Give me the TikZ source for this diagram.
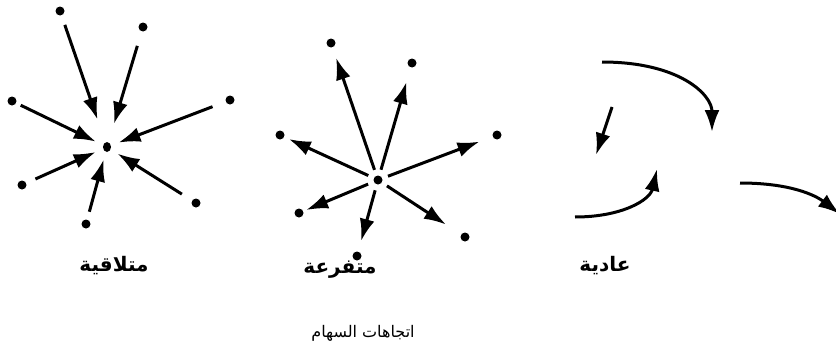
\documentclass[tikz,border=0pt]{standalone}
\usepackage{fontspec}
\newfontfamily\arabicfont[Script=Arabic]{DejaVu Sans}
\TeXXeTstate=1
\usetikzlibrary{arrows.meta,shapes.geometric}
\tikzset{
  dot/.style={circle, fill=black, minimum size=9pt, inner sep=0pt},
  hubdot/.style={ellipse, fill=black, minimum width=8pt, minimum height=10pt, inner sep=0pt},
  arrow/.style={-{Latex[length=22pt,width=15pt]}, line width=3pt},
  inarrow/.style={arrow, shorten <=10pt, shorten >=8pt},
  outarrow/.style={arrow, shorten <=6pt, shorten >=11pt},
  label/.style={font=\arabicfont\bfseries\fontsize{20}{22}\selectfont, inner sep=0pt},
  caption/.style={font=\arabicfont\fontsize{16}{18}\selectfont, inner sep=0pt}
}

\begin{document}
\begin{tikzpicture}[x=1pt, y=-1pt]
\useasboundingbox (0,0) rectangle (836,348);
% converging
\node[hubdot] (conv) at (107,147) {};
\node[dot] (conva) at (60,11) {};
\node[dot] (convb) at (143,27) {};
\node[dot] (convc) at (12,101) {};
\node[dot] (convd) at (230,100) {};
\node[dot] (conve) at (22,185) {};
\node[dot] (convf) at (196,203) {};
\node[dot] (convg) at (86,224) {};
\draw[inarrow, shorten >=24pt] (conva) -- (conv);
\draw[inarrow, shorten <=15pt, shorten >=19pt] (convb) -- (conv);
\draw[inarrow, shorten <=5pt] (convc) -- (conv);
\draw[inarrow, shorten <=14pt] (convd) -- (conv);
\draw[inarrow] (conve) -- (conv);
\draw[inarrow, shorten <=12pt] (convf) -- (conv);
\draw[inarrow, shorten <=8pt] (convg) -- (conv);
% diverging
\node[dot] (div) at (378,180) {};
\node[dot] (diva) at (331,43) {};
\node[dot] (divb) at (412,63) {};
\node[dot] (divc) at (280,135) {};
\node[dot] (divd) at (497,135) {};
\node[dot] (dive) at (299,213) {};
\node[dot] (divf) at (465,237) {};
\node[dot] (divg) at (357,256) {};
\draw[outarrow] (div) -- (diva);
\draw[outarrow, shorten >=15pt] (div) -- (divb);
\draw[outarrow, shorten >=5pt] (div) -- (divc);
\draw[outarrow, shorten >=14pt] (div) -- (divd);
\draw[outarrow, shorten >=3pt] (div) -- (dive);
\draw[outarrow, shorten >=18pt] (div) -- (divf);
\draw[outarrow] (div) -- (divg);
% normal
\coordinate (norma) at (602,62);
\coordinate (normb) at (712,132);
\coordinate (normc) at (612,107);
\coordinate (normd) at (596,155);
\coordinate (norme) at (575,217);
\coordinate (normf) at (657,169);
\coordinate (normg) at (740,183);
\coordinate (normh) at (840,214);
\draw[arrow] (norma) .. controls (680,62) and (712,95) .. (normb);
\draw[arrow] (normc) -- (normd);
\draw[arrow] (norme) .. controls (622,217) and (650,200) .. (normf);
\draw[arrow] (normg) .. controls (790,183) and (815,195) .. (normh);
% labels
\node[label] (convlbl) at (114,266) {\beginR متلاقية\endR};
\node[label] (divlbl) at (340,270) {\beginR متفرعة\endR};
\node[label] (normlbl) at (605,266) {\beginR عادية\endR};
\node[caption] (title) at (363,333) {\beginR اتجاهات السهام\endR};
\end{tikzpicture}
\end{document}
